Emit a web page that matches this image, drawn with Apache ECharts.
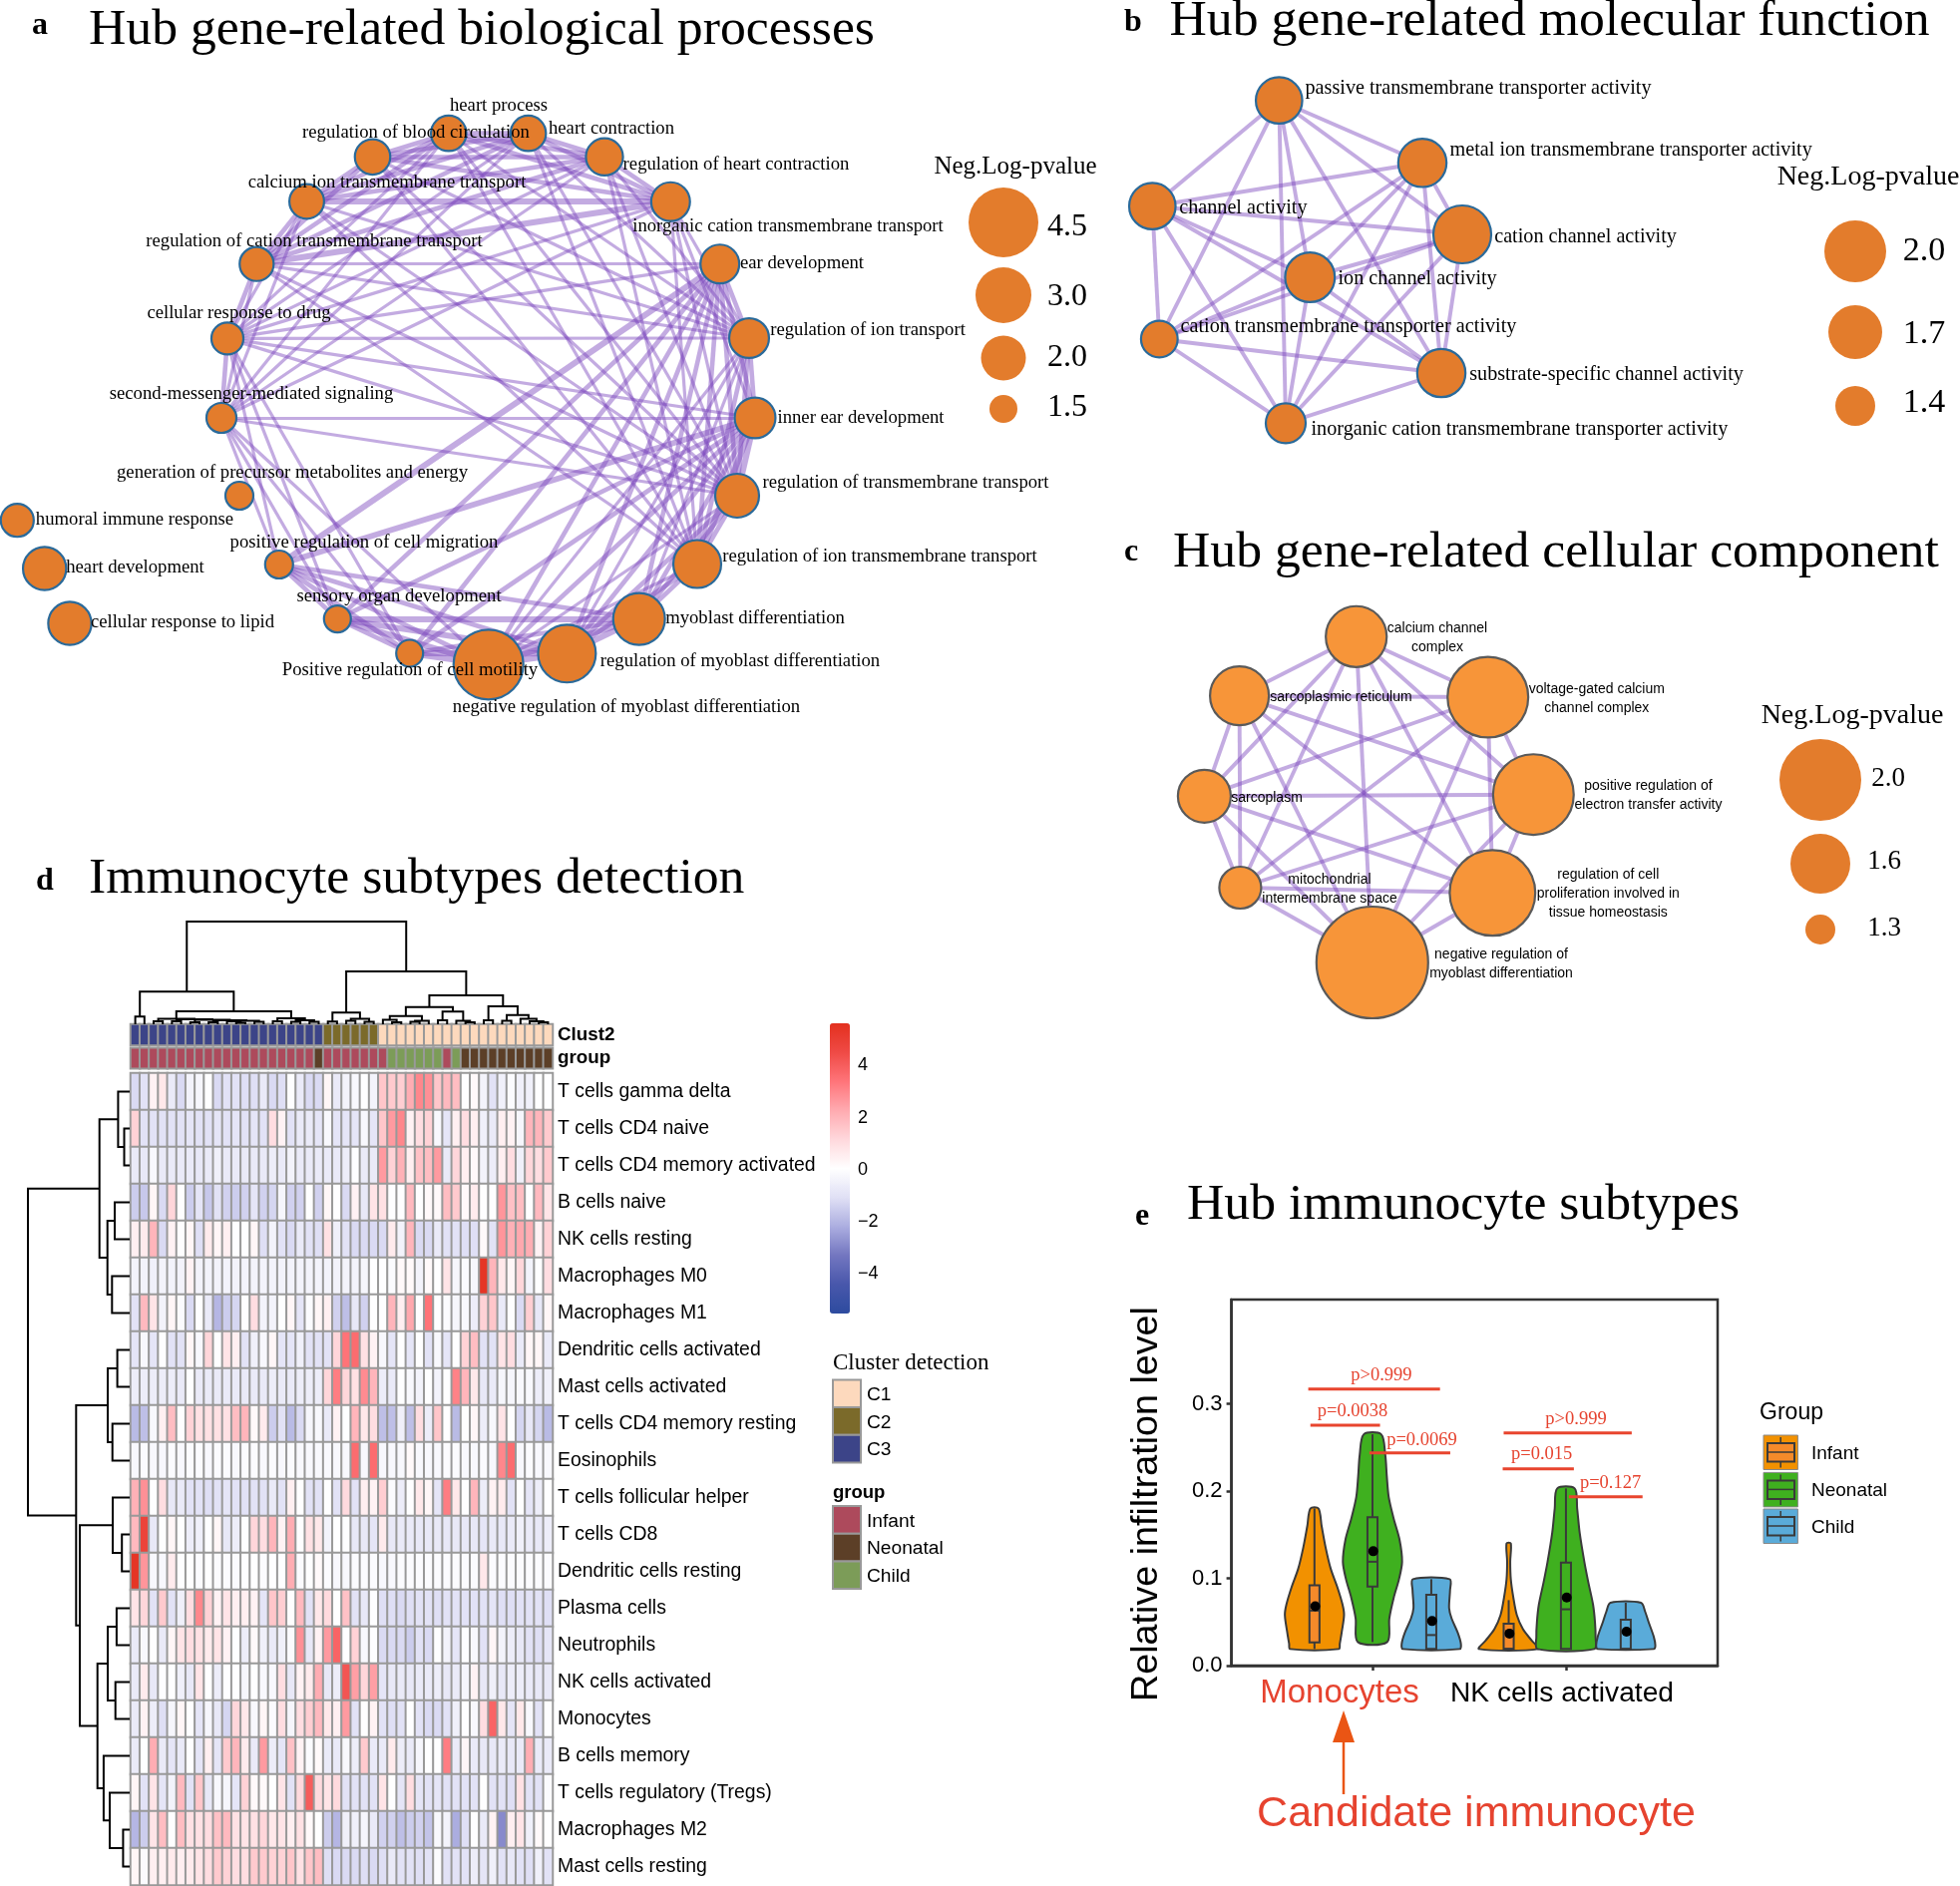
<!DOCTYPE html>
<html>
<head>
<meta charset="utf-8">
<title>Hub gene figure</title>
<script src="https://cdn.jsdelivr.net/npm/echarts@6/dist/echarts.min.js"></script>
<style>html,body{margin:0;padding:0;background:#fff}#main{width:1965px;height:1891px}</style>
</head>
<body>
<div id="main"></div>
<script>
// ---------- Panel a data ----------
const bpNames = ['heart process','heart contraction','regulation of heart contraction','inorganic cation transmembrane transport','ear development','regulation of ion transport','inner ear development','regulation of transmembrane transport','regulation of ion transmembrane transport','myoblast differentiation','regulation of myoblast differentiation','negative regulation of myoblast differentiation','Positive regulation of cell motility','sensory organ development','positive regulation of cell migration','generation of precursor metabolites and energy','second-messenger-mediated signaling','cellular response to drug','regulation of cation transmembrane transport','calcium ion transmembrane transport','regulation of blood circulation','humoral immune response','heart development','cellular response to lipid'];
const bpKeys = 'ABCDEFGHIJKLMNOPQRSTUVWX';
const bpValues = [1.72,1.72,1.77,1.82,1.82,1.85,1.88,1.97,2.27,2.63,3.2,4.5,1.47,1.47,1.5,1.5,1.56,1.62,1.68,1.7,1.72,1.65,1.95,1.95];
const bpEdgeHeavy = 'TD SD JK JL KL NJ NK NL ML MK OE OG GH GI';
const bpEdgeMid = 'AB AC AU BC BU CU AT BT CT UT AS BS CS US AD BD CD UD TS QR RS EF EG EH EI FG FH FI HI HJ IJ HK IK JE JG KE KG LE LG ME MG NE NG NM MJ ON OM OL OK OJ';
const bpEdgeLight = 'RT QT QS QA QB QC QD RA RB RC RD AF AH AI BF BH BI CF CH CI UF UH UI TF TH TI SF SH SI DF DG DH DI RE RF RG RH SE QG QH QO QN QM QL RO RN RM LF KF JF IL HL';
const bpLegendValues = [4.5,3.0,2.0,1.5];
// layout of the network
const bpLayoutX = [449.8,529.6,606,672.3,721.7,751,757,739,699,640.7,568.4,489.7,410.7,338.3,279.8,240,222,228,257.3,307.5,373.5,17.3,44.7,70];
const bpLayoutY = [133.7,133.7,157.3,202.2,264.7,339,419,497,565.5,620.6,655.3,666.3,655,620.6,566,497,419,339.4,264.7,202,157.3,521.7,570,625];
const bpLabelX = [500,613,738,790,804,870,863,908,882,757,742,628,411,400,365,293,252,239.5,315,388,417,135,135.5,183];
const bpLabelY = [106,129,165,227,264,331,419,484,558,620,663,709.5,672,598,544,474,395,314.5,242,183,133,521,569,624];

// ---------- Panel b data ----------
const mfNames = ['passive transmembrane transporter activity','metal ion transmembrane transporter activity','cation channel activity','ion channel activity','channel activity','cation transmembrane transporter activity','substrate-specific channel activity','inorganic cation transmembrane transporter activity'];
const mfValues = [1.54,1.58,1.85,1.61,1.54,1.33,1.58,1.4];
const mfEdges = [[0,1],[0,2],[0,3],[0,4],[0,5],[0,6],[0,7],[1,2],[1,3],[1,4],[1,5],[1,6],[1,7],[2,3],[2,4],[2,5],[2,6],[2,7],[3,4],[3,5],[3,6],[3,7],[4,5],[4,6],[4,7],[5,6],[5,7],[6,7]];
const mfLegendValues = [2.0,1.7,1.4];
const mfLayoutX = [1282.3,1426,1466,1313.3,1155.3,1162.3,1445,1289];
const mfLayoutY = [100.7,163.3,235,278,206.7,340,374,424.3];
const mfLabelLeft = [1308,1453,1497.7,1341,1181.7,1183,1472.7,1314];
const mfLabelY = [89,151,237.5,279.5,209,328,375.5,430.5];

// ---------- Panel c data ----------
const ccNames = ['calcium channel\ncomplex','voltage-gated calcium\nchannel complex','positive regulation of\nelectron transfer activity','regulation of cell\nproliferation involved in\ntissue homeostasis','negative regulation of\nmyoblast differentiation','mitochondrial\nintermembrane space','sarcoplasm','sarcoplasmic reticulum'];
const ccValues = [1.62,1.98,1.98,2.07,2.55,1.42,1.53,1.59];
const ccEdges = [[0,1],[0,2],[0,3],[0,4],[0,5],[0,6],[0,7],[1,2],[1,3],[1,4],[1,5],[1,6],[1,7],[2,3],[2,4],[2,5],[2,6],[2,7],[3,4],[3,5],[3,6],[3,7],[4,5],[4,6],[4,7],[5,6],[5,7],[6,7]];
const ccLegendValues = [2.0,1.6,1.3];
const ccLayoutX = [1359.7,1491.7,1537.3,1496.3,1375.8,1243.4,1207.4,1242.6];
const ccLayoutY = [638.3,699,796.7,895.3,965,890,798.3,697.7];
const ccLabelX = [1441,1600.8,1652.5,1612.3,1505,1333,1270,1344.4];
const ccLabelY = [640,700.5,798,896.5,967,892,800.5,699.5];

// ---------- Panel d data ----------
const heatRows = ['T cells gamma delta','T cells CD4 naive','T cells CD4 memory activated','B cells naive','NK cells resting','Macrophages M0','Macrophages M1','Dendritic cells activated','Mast cells activated','T cells CD4 memory resting','Eosinophils','T cells follicular helper','T cells CD8','Dendritic cells resting','Plasma cells','Neutrophils','NK cells activated','Monocytes','B cells memory','T cells regulatory (Tregs)','Macrophages M2','Mast cells resting'];
const heatValues = [
[-1.2,-1,.4,.7,-.7,-1.2,-.4,-.3,0,-1.2,-1,-1,-1.1,-1.1,-.7,-1.2,-1.1,0,-.7,-1.2,-1.2,.3,-.7,-.4,-.2,0,-.4,1.6,1.5,1.4,2.2,3,2.8,1.6,1.9,1.8,0,.2,-.4,-1,-.5,-.1,-.5,-.5,0,0],
[1.3,-1,-1,-1,-1,-1,-.9,-1,-1,-.9,-1,-.9,-1,-.9,-1,1,.4,-1,-.7,-.7,-.9,-.2,-.9,-.9,-.9,-.2,-.9,1.6,2.6,3,.4,1,1.3,-.2,-.9,.5,1,.5,-.5,-.7,.5,.4,-.3,2,2,1.5],
[-.7,-.8,-.2,-.7,-.7,-.7,-.7,-.8,-.7,-.5,-.7,-.7,-.7,-.7,-.7,-.6,-.7,-.4,-.7,-.7,-.7,-.7,-.7,-.6,0,-.7,-.7,2.6,1.3,2.1,.5,1.7,1.8,2.6,-.7,1.2,.5,.2,-.4,-.6,.5,1,-.5,1.2,1,1.5],
[-1.5,-1.6,.3,-1.2,1.2,0,-1.5,-.9,-1.6,-1,-1.4,-1.5,-1.4,-.9,-1.4,-1.3,-.3,-1.4,-1.4,0,-1.4,.3,0,-1.2,.4,-.8,.8,.9,0,0,1.9,0,.2,.2,1.8,1.5,.2,.6,0,0,2.7,1.7,1.8,0,1.9,.8],
[.5,.6,2,-1.2,.4,0,.3,-1.1,.6,.3,.5,0,0,.3,-1.1,-.4,-1,-1.2,-.7,-1,-1.1,.9,-.5,-1,-1.2,-1.2,-1.2,-1.2,.6,-.4,2,-1.2,-1.2,-.7,-1,-1,-1.1,-1.1,.2,-1,2.7,2.1,2.3,2.2,.4,1.3],
[-.4,-.4,-.5,-.4,-.4,-.4,.4,-.4,-.4,-.4,-.4,-.4,-.4,-.4,-.4,-.4,-.4,-.4,-.4,-.4,-.4,-.4,-.4,-.4,-.4,-.3,0,0,-.1,.2,.2,-.4,.2,0,.8,-.3,-.1,-.3,5.4,2,.7,.3,1.2,-.4,0,1],
[-1,1.9,.8,-.4,.3,-.1,-1.2,0,-.7,-2,-1.5,-1.3,0,1,-.4,-.4,0,.3,-.9,-.1,.3,.5,-1.4,-1.8,-.8,-1.4,0,0,2,.5,2.3,0,3.4,0,-.1,-.3,-.2,-.6,1.3,1.6,-.7,0,-1.2,1.4,-.8,.3],
[-.9,-.2,-.9,0,-1,-1,.3,-.2,1.2,0,.8,.5,-1,-.5,-.2,.3,-.9,-.9,-.5,-1,-1,-1,1.2,3.4,3.6,.9,.4,-.2,-.9,0,-.9,0,-1,-.2,-.9,0,1.3,1.8,-1,-1,.8,1,-.7,.3,.3,-.7],
[-.6,-.6,-.6,-.6,-.6,-.7,0,-.7,-.7,-.7,-.7,-.7,-.7,-.7,-.7,-.6,-.7,-.7,-.6,-.6,-.6,1.2,3.2,1.2,.9,2.9,2,-.6,-.7,0,-.2,-.4,0,-.4,0,3.1,2,.7,-.8,-.7,-.3,-.3,-.2,-.2,-.6,-.5],
[-1.9,-1.8,-.2,.5,1.8,0,1.3,.9,.9,.9,.9,1.8,2,.2,.6,-1.5,-1,-1.9,-1.2,-.3,-.2,-.7,.4,0,2,.7,1,-1.8,-1.8,-.5,-1.8,1,-.6,1.6,0,-1.9,0,.3,-.6,-.2,.8,0,-1.3,-.8,-1.3,-1.9],
[-.2,-.1,-.2,-.2,-.1,-.2,-.1,-.1,-.2,-.1,-.1,-.2,-.1,-.1,-.2,-.1,-.2,-.1,-.2,-.2,-.2,-.2,-.2,-.2,3.6,-.2,3.6,-.2,-.2,-.2,.2,-.2,-.2,-.2,-.1,-.1,-.2,-.2,-.1,-.2,3,3.6,-.2,-.1,-.2,-.2],
[2.1,2.8,0,1,-.8,-.7,-1,-1,-1.1,-1,-.9,-1,-1,-1,-1,-.7,-1,.5,0,-1,-1,0,-1,1.1,-1,.5,.4,1.4,-.1,-.6,0,.7,.3,-.9,3.2,.7,0,2,-.6,.4,.6,-1,0,-.9,-.6,0],
[1.9,4.8,-.8,0,.3,0,-.6,-.5,0,.3,-.8,-.6,0,1.2,1,2,.4,2.2,0,.9,.7,-.4,0,0,-.8,-.8,-.9,.6,-.8,-.7,-.7,-.8,-.8,-.8,-.8,-.8,-.8,-.8,-.9,-.7,-.8,-.7,-.5,-.7,-.8,-.6],
[5.4,2.7,-.2,-.2,.6,0,0,-.1,0,-.1,-.1,-.1,0,0,-.1,0,0,2.2,-.1,0,.2,-.1,-.2,-.2,-.1,-.1,-.1,-.2,-.2,-.1,-.1,-.1,-.1,-.1,-.1,-.1,-.1,-.1,.7,-.1,-.1,-.1,-.1,-.1,-.1,-.1],
[.8,1.2,-1,1.5,-1,-.5,1,3,1.3,.4,.8,.5,.5,.4,-.9,1.6,1.4,0,1.9,-1,.7,1.1,0,1.7,-1,-.8,0,-1.1,-1.1,-1.2,-1.1,-1,-1,-1.1,-1,-1,-1,-1,-1,-.9,-1.1,-1.1,-1,-1,-1,-1.1],
[-.7,-.2,0,-.7,.3,.8,1,.9,.6,.8,.4,0,-.6,.2,-.5,-.7,-.5,-.1,2.8,-.8,.4,2.6,3.8,0,1.3,-.2,0,-1.2,-1.2,-1.2,-1.5,-1,-1.2,0,-.4,-.9,0,-.2,-1,.3,-.4,-.6,-.8,-1,-1.1,-.9],
[-.7,.6,-.8,0,0,-.5,-.8,.8,0,-.6,0,0,-.3,0,-.2,-.2,1,-.8,.4,.6,2.2,-.8,-.6,4.2,2.5,1.2,2.5,-.9,-.8,-.7,-.8,-.7,-.7,-.6,-.8,-.7,-.3,.4,-.8,-.5,-.8,-.6,-.6,-.7,-.8,-.8],
[-.7,.4,-.6,-1.1,-.3,.3,0,-.9,-.3,-.8,-1.3,1.2,.7,-.2,.3,-.1,1,-.3,1,1.4,1.9,.7,.5,2.6,-1,0,.4,-1,-1.1,-1,0,-1,-1.2,-1.2,-1,-.5,0,-.2,1,3.8,.7,-.9,.7,-.2,-1,0],
[-.7,0,2.2,-.7,-.9,-.7,0,-.9,.5,-.9,1.5,2,.6,-.7,2.6,-.6,-.9,1.7,.4,-.1,.2,-.7,-.7,-.2,-.6,1.5,-.7,-.7,.6,-.6,-.7,-.3,0,0,3.2,-.7,.3,-.7,-.8,-.8,-.7,-.8,-.7,2.2,-.7,-.7],
[.3,-1,.8,-.9,-.4,1.9,-1,1.6,-.8,-.2,-.3,-.9,1.3,.2,.2,0,.8,-1,1.1,4,1.1,.8,1.1,-1,-1,-1,-1,.8,0,-.9,1,-.9,-1,-.9,-1,-1,-1,-1,0,-1,-1,-1.1,.9,-1,-1,-.1],
[-2,-1.5,.8,1.8,0,1.8,.9,.9,1,1.7,1.9,.9,.8,.9,1.2,.7,.8,.5,.9,.2,0,-1.5,-2,-.5,-.5,-.3,-.7,-1.4,-1.4,-1.8,-1.5,-1.4,-1.7,-.2,-.4,-2.2,-1.1,0,-.7,.4,-2.9,.5,.8,-.5,.2,0],
[.3,-.1,.5,.5,.6,.5,.6,.8,1,1.5,1.3,1,1,1.5,1.5,1.3,1.3,1.6,.9,1.6,1.8,-1.1,-1.2,-1.2,-1.2,-1.1,-1.2,-1.1,-.7,-1,-1,-1.1,-1,-.1,-1,-1,-1,-.6,-.9,-.5,-1,-.8,-1,-1.1,-.5,-1]
];
const clusterLevels = ['C1','C2','C3'];
const clusterCounts = [['C3',21],['C2',6],['C1',19]];
const groupLevels = ['Infant','Neonatal','Child'];
const groupCounts = [['Infant',20],['Neonatal',1],['Infant',7],['Child',6],['Infant',1],['Child',1],['Neonatal',10]];
const colorbarTicks = ['4','2','0','\u22122','\u22124'];
// dendrograms: [left, right, height]; a number is a leaf (1-based)
const colTree = [[[1,2,7.7],[[[3,4,3],[[5,6,3],[[7,8,2],[[9,10,2],[[11,[12,13,1.5],3],[14,15,2.5],3.5],4],4.5],5],5.5],[[16,17,3],[[18,19,2.5],[20,21,2.5],4],6],13],32.7],[[[22,23,2.7],[[24,25,3.5],[26,27,2.5],5.5],11.7],[[[[28,[29,30,2],4.5],[[31,32,2.5],33,3.5],8.3],[[34,35,4],[36,[37,38,2],3.5],12.7],17.3],[[39,40,4],[[41,42,3.5],[43,[44,[45,46,2],3],5.5],9.3],18],29],53],103];
const rowTree = [[[1,[2,3,5.5],11.6],[[4,5,15],[6,7,17.7],22.3],30.3],[[[8,9,12.4],[10,11,17.3],22],[[12,[13,14,7.8],17],[[[15,16,13.1],[17,18,14.3],22],[19,[20,[21,22,6.6],20],26.1],32.3],50],53.7],102];

// ---------- Panel e data ----------
const violinGroups = ['Infant','Neonatal','Child','Infant','Neonatal','Child'];
const violinCenter = [.7,1,1.304,1.704,2,2.309];
const violinY = [
[.18,.16,.135,.111,.09,.07,.058,.037,.025,.019],
[.265,.2416,.217,.193,.168,.144,.119,.099,.078,.054,.027],
[.099,.0865,.066,.054,.0376,.025,.019],
[.14,.119,.099,.078,.058,.0416,.029,.019],
[.203,.18,.152,.119,.095,.07,.05,.033,.019],
[.072,.062,.05,.033,.023,.019]];
const violinHalf = [
[.021,.037,.058,.084,.118,.145,.153,.14,.131,.126],
[.045,.066,.074,.084,.11,.14,.153,.137,.11,.087,.076],
[.095,.097,.092,.105,.137,.153,.147],
[.011,.008,.011,.024,.042,.074,.118,.153],
[.045,.058,.071,.095,.116,.14,.15,.153,.147],
[.079,.1,.118,.145,.153,.145]];
const boxQ1 = [.0265,.0906,.019,.019,.019,.019];
const boxMedian = [.063,.119,.035,.019,.0645,.019];
const boxQ3 = [.092,.17,.081,.048,.118,.0527];
const whiskerLow = [.019,.027,.019,.019,.019,.019];
const whiskerHigh = [.18,.265,.099,.075,.203,.072];
const meanValue = [.068,.131,.051,.0367,.078,.0388];
const sigFrom = [.668,.679,.984,1.678,1.673,2.015];
const sigTo = [1.349,1.039,1.402,2.34,2.041,2.396];
const sigLevel = [.3167,.2755,.2437,.2665,.2253,.1935];
const sigText = ['p>0.999','p=0.0038','p=0.0069','p>0.999','p=0.015','p=0.127'];
const sigTextX = [1.046,.897,1.255,2.052,1.875,2.23];
const sigTextY = [.3327,.2918,.258,.2816,.2416,.209];
const yTicks = [0,.1,.2,.3];

// ---------- styles ----------
const SERIF = '"Liberation Serif","Times New Roman",serif';
const SANS = '"Liberation Sans",Arial,sans-serif';
const groupColor = {Infant:'#f29100',Neonatal:'#3fb01f',Child:'#5aabd9'};
const boxColor = {Infant:'#f58a2a',Neonatal:'#3fb01f',Child:'#5aabd9'};
const annColor = {C1:'#fdd9bd',C2:'#7b6a2a',C3:'#3c4488',Infant:'#ad4a5c',Neonatal:'#5c3f27',Child:'#7c9c58'};
const EDGE = '#7b45bd';
const RED = '#e6432f';

function scale(anchors){
  return v=>{
    let i=0; while(i<anchors.length-2 && v>anchors[i+1][0]) i++;
    const a=anchors[i],b=anchors[i+1];
    return 2*(a[1]+(v-a[0])*(b[1]-a[1])/(b[0]-a[0]));
  };
}
const sizeA = scale([[1.5,14],[2,22.5],[3,28],[4.5,35]]);
const sizeB = scale([[1.4,20],[1.7,27],[2,31]]);
const sizeC = scale([[1.3,15],[1.6,30],[2,41],[2.55,56]]);

const grids=[],xAxes=[],yAxes=[],series=[],graphic=[];
function pageGrid(l,t,w,h){
  grids.push({left:l,top:t,width:w,height:h});
  xAxes.push({type:'value',gridIndex:grids.length-1,show:false,min:l,max:l+w});
  yAxes.push({type:'value',gridIndex:grids.length-1,show:false,min:t,max:t+h,inverse:true});
  return grids.length-1;
}
function txt(t,x,y,font,opt){
  opt=opt||{};
  graphic.push({type:'text',x:x,y:y,rotation:opt.rotation||0,z:20,silent:true,
    style:{text:t,font:font,fill:opt.fill||'#000',align:opt.align||'center',verticalAlign:'middle'}});
}
function network(g,names,values,X,Y,sizeFn,links,nodeColor,borderColor){
  series.push({type:'graph',layout:'none',coordinateSystem:'cartesian2d',xAxisIndex:g,yAxisIndex:g,
    z:3,silent:true,roam:false,
    data:names.map((n,i)=>({name:n,value:[X[i],Y[i]],symbolSize:sizeFn(values[i])})),
    links:links,
    itemStyle:{color:nodeColor,borderColor:borderColor,borderWidth:2.2,opacity:1},
    label:{show:false},
    lineStyle:{color:EDGE,opacity:.45,curveness:0}});
}
function labels(g,names,X,Y,font,size,align,lh){
  series.push({type:'scatter',xAxisIndex:g,yAxisIndex:g,z:6,silent:true,symbolSize:1,
    itemStyle:{color:'transparent',opacity:1},
    data:names.map((n,i)=>({name:n,value:[X[i],Y[i]]})),
    label:{show:true,position:align==='left'?'right':'inside',distance:0,formatter:p=>p.name,
      fontFamily:font,fontSize:size,color:'#000',opacity:1,lineHeight:lh||undefined,align:align==='left'?'left':'center',verticalAlign:'middle'},
    labelLayout:{hideOverlap:false}});
}
function sizeLegend(g,vals,X,Y,sizeFn,color){
  series.push({type:'scatter',xAxisIndex:g,yAxisIndex:g,z:4,silent:true,
    data:vals.map((v,i)=>({value:[X,Y[i]],symbolSize:sizeFn(v)})),
    itemStyle:{color:color,opacity:1}});
}

// ---------- Panels a-c ----------
const gA=pageGrid(0,50,1100,800), gB=pageGrid(1100,50,865,470), gC=pageGrid(1100,580,865,450);
function bpLinks(str,w){return str.split(' ').map(p=>({source:bpKeys.indexOf(p[0]),target:bpKeys.indexOf(p[1]),lineStyle:{width:w}}));}
network(gA,bpNames,bpValues,bpLayoutX,bpLayoutY,sizeA,
  bpLinks(bpEdgeLight,3.2).concat(bpLinks(bpEdgeMid,4.6),bpLinks(bpEdgeHeavy,6)),'#e37c2c','#2a6a9a');
labels(gA,bpNames,bpLabelX,bpLabelY,SERIF,18.7);
sizeLegend(gA,bpLegendValues,1006,[223,296,359,410],sizeA,'#e37c2c');
txt('Neg.Log-pvalue',1018,167,'25px '+SERIF);
bpLegendValues.forEach((v,i)=>txt(v.toFixed(1),1070,[228,298,359,409][i],'32px '+SERIF));

network(gB,mfNames,mfValues,mfLayoutX,mfLayoutY,sizeB,mfEdges.map(e=>({source:e[0],target:e[1],lineStyle:{width:3.9}})),'#e37c2c','#2a6a9a');
labels(gB,mfNames,mfLabelLeft,mfLabelY,SERIF,20.2,'left');
sizeLegend(gB,mfLegendValues,1860,[252,333,407],sizeB,'#e37c2c');
txt('Neg.Log-pvalue',1873,178,'28px '+SERIF);
mfLegendValues.forEach((v,i)=>txt(v.toFixed(1),1929,[252,335,404][i],'34px '+SERIF));

network(gC,ccNames,ccValues,ccLayoutX,ccLayoutY,sizeC,ccEdges.map(e=>({source:e[0],target:e[1],lineStyle:{width:3.9}})),'#f79539','#5a5a5a');
labels(gC,ccNames,ccLabelX,ccLabelY,SANS,14,'center',19);
sizeLegend(gC,ccLegendValues,1825,[782,866,932],sizeC,'#e37c2c');
txt('Neg.Log-pvalue',1857,718,'28px '+SERIF);
ccLegendValues.forEach((v,i)=>txt(v.toFixed(1),[1893,1889,1889][i],[781,864,931][i],'27px '+SERIF));

// ---------- Panel d ----------
const colIdx = heatValues[0].map((_,i)=>i);
grids.push({left:131,top:1076,width:423,height:814}); const gH=grids.length-1;
xAxes.push({type:'category',gridIndex:gH,show:false,data:colIdx});
yAxes.push({type:'category',gridIndex:gH,data:heatRows,inverse:true,position:'right',axisLine:{show:false},axisTick:{show:false},
  axisLabel:{color:'#000',fontFamily:SANS,fontSize:19.4,margin:5,interval:0,padding:[7,0,0,0]}});
const heatData=[]; heatValues.forEach((r,j)=>r.forEach((v,i)=>heatData.push([i,j,v])));
const heatSeriesIdx=series.length;
series.push({type:'heatmap',xAxisIndex:gH,yAxisIndex:gH,data:heatData,progressive:0,silent:true,
  itemStyle:{borderColor:'#999',borderWidth:2},emphasis:{disabled:true}});

function expand(counts){const o=[];counts.forEach(c=>{for(let i=0;i<c[1];i++)o.push(c[0]);});return o;}
const annSeriesIdx=[];
function annotation(top,h,name,levels,counts,offset){
  grids.push({left:131,top:top,width:423,height:h}); const g=grids.length-1;
  xAxes.push({type:'category',gridIndex:g,show:false,data:colIdx});
  yAxes.push({type:'category',gridIndex:g,data:[name],position:'right',axisLine:{show:false},axisTick:{show:false},
    axisLabel:{color:'#000',fontFamily:SANS,fontSize:18.8,fontWeight:'bold',margin:5,padding:[5,0,0,0]}});
  annSeriesIdx.push(series.length);
  series.push({type:'heatmap',xAxisIndex:g,yAxisIndex:g,progressive:0,silent:true,
    data:expand(counts).map((c,i)=>[i,0,levels.indexOf(c)+offset]),
    itemStyle:{borderColor:'#999',borderWidth:2},emphasis:{disabled:true}});
}
annotation(1027,21,'Clust2',clusterLevels,clusterCounts,0);
annotation(1050.7,20.6,'group',groupLevels,groupCounts,3);

function flatten(t,out){
  if(typeof t==='number') return {pos:t-.5,h:0};
  const a=flatten(t[0],out),b=flatten(t[1],out);
  out.push([a.pos,a.h,b.pos,b.h,t[2]]);
  return {pos:(a.pos+b.pos)/2,h:t[2]};
}
const colLinks=[],rowLinks=[]; flatten(colTree,colLinks); flatten(rowTree,rowLinks);
grids.push({left:131,top:924,width:423,height:103}); const gCD=grids.length-1;
xAxes.push({type:'value',gridIndex:gCD,show:false,min:0,max:46});
yAxes.push({type:'value',gridIndex:gCD,show:false,min:0,max:103});
series.push({type:'custom',xAxisIndex:gCD,yAxisIndex:gCD,data:colLinks,silent:true,clip:false,encode:{x:0,y:1},
  renderItem:(p,api)=>{
    const v=i=>api.value(i);
    const pts=[[v(0),v(1)],[v(0),v(4)],[v(2),v(4)],[v(2),v(3)]].map(q=>api.coord(q));
    return {type:'polyline',shape:{points:pts},style:{stroke:'#000',lineWidth:2,fill:null}};
  }});
grids.push({left:28,top:1076,width:102,height:814}); const gRD=grids.length-1;
xAxes.push({type:'value',gridIndex:gRD,show:false,min:0,max:102,inverse:true});
yAxes.push({type:'value',gridIndex:gRD,show:false,min:0,max:22,inverse:true});
series.push({type:'custom',xAxisIndex:gRD,yAxisIndex:gRD,data:rowLinks,silent:true,clip:false,encode:{x:1,y:0},
  renderItem:(p,api)=>{
    const v=i=>api.value(i);
    const pts=[[v(1),v(0)],[v(4),v(0)],[v(4),v(2)],[v(3),v(2)]].map(q=>api.coord(q));
    return {type:'polyline',shape:{points:pts},style:{stroke:'#000',lineWidth:2,fill:null}};
  }});

colorbarTicks.forEach((t,i)=>txt(t,860,[1068,1120.6,1172.7,1225.3,1277.5][i],'18px '+SANS,{align:'left'}));
txt('Cluster detection',835,1367,'23px '+SERIF,{align:'left'});
function keyStack(levels,tops,h){
  levels.forEach((l,i)=>{
    graphic.push({type:'rect',z:15,silent:true,shape:{x:835,y:tops+i*h,width:28,height:h},style:{fill:annColor[l],stroke:'#999',lineWidth:2}});
    txt(l,869,tops+(i+.5)*h+1.5,'19.2px '+SANS,{align:'left'});
  });
}
keyStack(clusterLevels,1383.4,27.7);
txt('group',835,1497,'bold 18.5px '+SANS,{align:'left'});
keyStack(groupLevels,1510,27.7);

// ---------- Panel e ----------
grids.push({left:1234.6,top:1303,width:487.4,height:367,show:true,borderColor:'#333',borderWidth:2.5,backgroundColor:'transparent'});
const gV=grids.length-1;
xAxes.push({type:'value',gridIndex:gV,min:.271,max:2.784,splitLine:{show:false},
  axisLine:{show:true,onZero:false,lineStyle:{color:'#333',width:2.5}},
  axisTick:{show:true,customValues:[1,2],length:5,lineStyle:{color:'#333',width:2.5}},
  axisLabel:{show:false}});
yAxes.push({type:'value',gridIndex:gV,min:0,max:.4194,splitLine:{show:false},
  axisLine:{show:true,lineStyle:{color:'#333',width:2.5}},
  axisTick:{show:true,customValues:yTicks,length:5,lineStyle:{color:'#333',width:2.5}},
  axisLabel:{show:true,customValues:yTicks,formatter:v=>v.toFixed(1),color:'#000',fontFamily:SANS,fontSize:22,margin:9}});
series.push({type:'custom',xAxisIndex:gV,yAxisIndex:gV,silent:true,clip:false,z:3,
  data:violinCenter.map((c,i)=>[c,boxMedian[i]]),encode:{x:0,y:1},
  renderItem:(p,api)=>{
    const i=p.dataIndex,c=violinCenter[i],ys=violinY[i],hs=violinHalf[i],g=violinGroups[i];
    const pts=[];
    ys.forEach((y,k)=>pts.push(api.coord([c-hs[k],y])));
    for(let k=ys.length-1;k>=0;k--)pts.push(api.coord([c+hs[k],ys[k]]));
    const bw=.026,stroke='#3a3a3a';
    const a=api.coord([c-bw,boxQ3[i]]),b=api.coord([c+bw,boxQ1[i]]);
    const m0=api.coord([c-bw,boxMedian[i]]),m1=api.coord([c+bw,boxMedian[i]]);
    const w0=api.coord([c,whiskerLow[i]]),w1=api.coord([c,whiskerHigh[i]]),d=api.coord([c+.004,meanValue[i]]);
    return {type:'group',children:[
      {type:'polygon',shape:{points:pts,smooth:.3},style:{fill:groupColor[g],stroke:stroke,lineWidth:2}},
      {type:'line',shape:{x1:w0[0],y1:w0[1],x2:w1[0],y2:w1[1]},style:{stroke:stroke,lineWidth:2}},
      {type:'rect',shape:{x:a[0],y:a[1],width:b[0]-a[0],height:b[1]-a[1]},style:{fill:boxColor[g],stroke:stroke,lineWidth:2}},
      {type:'line',shape:{x1:m0[0],y1:m0[1],x2:m1[0],y2:m1[1]},style:{stroke:stroke,lineWidth:2}},
      {type:'circle',shape:{cx:d[0],cy:d[1],r:5},style:{fill:'#000'}}
    ]};
  }});
series.push({type:'custom',xAxisIndex:gV,yAxisIndex:gV,silent:true,clip:false,z:4,
  data:sigLevel.map((y,i)=>[sigFrom[i],y]),encode:{x:0,y:1},
  renderItem:(p,api)=>{
    const i=p.dataIndex,a=api.coord([sigFrom[i],sigLevel[i]]),b=api.coord([sigTo[i],sigLevel[i]]),t=api.coord([sigTextX[i],sigTextY[i]]);
    return {type:'group',children:[
      {type:'line',shape:{x1:a[0],y1:a[1],x2:b[0],y2:b[1]},style:{stroke:'#e8452e',lineWidth:3}},
      {type:'text',x:t[0],y:t[1],style:{text:sigText[i],fill:RED,font:'18.5px '+SERIF,align:'center',verticalAlign:'middle'}}
    ]};
  }});
txt('Relative infiltration level',1150,1508,'37.7px '+SANS,{rotation:Math.PI/2});
txt('Monocytes',1343,1698,'33px '+SANS,{fill:RED});
txt('NK cells activated',1566,1698,'28.2px '+SANS);
txt('Candidate immunocyte',1480,1819,'43px '+SANS,{fill:RED});
graphic.push({type:'line',z:15,silent:true,shape:{x1:1347,y1:1745,x2:1347,y2:1799},style:{stroke:'#ea5514',lineWidth:2.5}});
graphic.push({type:'polygon',z:15,silent:true,shape:{points:[[1347,1715],[1336,1747],[1358,1747]]},style:{fill:'#ea5514'}});
txt('Group',1796,1417,'23px '+SANS);
groupLevels.forEach((l,i)=>{
  const top=[1439,1476.4,1513][i];
  const h=34.5,cx=1785.2;
  graphic.push({type:'rect',z:15,silent:true,shape:{x:1768,y:top,width:34.4,height:h},style:{fill:groupColor[l],stroke:'#888',lineWidth:1}});
  graphic.push({type:'line',z:15,silent:true,shape:{x1:cx,y1:top+2,x2:cx,y2:top+h-2},style:{stroke:'#3a3a3a',lineWidth:1.5}});
  graphic.push({type:'rect',z:15,silent:true,shape:{x:1772,y:top+8,width:27,height:18.5},style:{fill:boxColor[l],stroke:'#3a3a3a',lineWidth:2}});
  graphic.push({type:'line',z:15,silent:true,shape:{x1:1772,y1:top+17,x2:1799,y2:top+17},style:{stroke:'#3a3a3a',lineWidth:1.5}});
  txt(l,1816,top+18.5,'19px '+SANS,{align:'left'});
});

// ---------- titles ----------
const TITLE='51.7px '+SERIF, LETTER='bold 32px '+SERIF;
txt('Hub gene-related biological processes',89,30.5,TITLE,{align:'left'});
txt('Hub gene-related molecular function',1172.5,21,TITLE,{align:'left'});
txt('Hub gene-related cellular component',1176,554,TITLE,{align:'left'});
txt('Immunocyte subtypes detection',89,881.5,TITLE,{align:'left'});
txt('Hub immunocyte subtypes',1190,1208.5,TITLE,{align:'left'});
txt('a',40,26,LETTER); txt('b',1136,23,LETTER); txt('c',1134,554,LETTER); txt('d',45,884,LETTER); txt('e',1145,1220,LETTER);

const chart=echarts.init(document.getElementById('main'));
chart.setOption({
  animation:false,backgroundColor:'#fff',tooltip:{show:false},
  grid:grids,xAxis:xAxes,yAxis:yAxes,series:series,graphic:{elements:graphic},
  visualMap:[
    {type:'continuous',seriesIndex:heatSeriesIdx,dimension:2,min:-5.53,max:5.61,left:832,top:1026,itemWidth:20,itemHeight:291,padding:0,
     calculable:false,hoverLink:false,realtime:false,text:null,
     inRange:{color:['#2d4b9f','#4857ab','#7376c0','#acaee0','#e0e0f5','#ffffff','#ffd8dc','#ffaab0','#ff7479','#ef4a45','#e3301e']}},
    {type:'piecewise',show:false,seriesIndex:annSeriesIdx,dimension:2,
     pieces:clusterLevels.concat(groupLevels).map((l,i)=>({value:i,color:annColor[l]}))}
  ]
});
</script>
</body>
</html>
